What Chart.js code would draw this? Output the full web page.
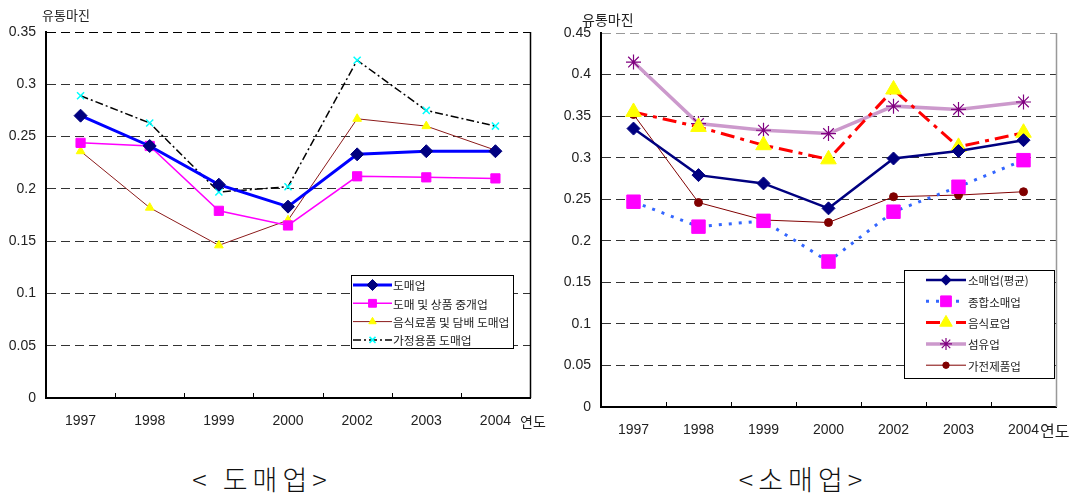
<!DOCTYPE html>
<html>
<head>
<meta charset="utf-8">
<script src="https://cdn.jsdelivr.net/npm/chart.js@4.4.1/dist/chart.umd.min.js"></script>
<style>
  body { margin: 0; background: #fff; width: 1077px; height: 497px; position: relative; overflow: hidden; }
  canvas { position: absolute; top: 0; }
  #leftChart { left: 0; }
  #rightChart { left: 540px; }
  .lbl { position: absolute; color: #222; white-space: nowrap; line-height: 1; font-family: "Noto Sans CJK KR", sans-serif; z-index: 2; }
  .ttl { position: absolute; top: 464px; width: 220px; text-align: center; font-size: 27px; line-height: 30px;
         font-family: "Noto Sans CJK KR", sans-serif; font-weight: 300; letter-spacing: 5px; color: #111; }
</style>
</head>
<body>
<canvas id="leftChart" width="540" height="450"></canvas>
<canvas id="rightChart" width="537" height="450"></canvas>

<div class="lbl" style="left:42px;top:8px;font-size:13px;">유통마진</div>
<div class="lbl" style="left:582px;top:12px;font-size:14px;">유통마진</div>
<div class="lbl" style="left:520px;top:414px;font-size:14px;">연도</div>
<div class="lbl" style="left:1040px;top:422px;font-size:16px;">연도</div>
<div class="ttl" style="left:152px;">&lt; 도매업&gt;</div>
<div class="ttl" style="left:693px;">&lt;소매업&gt;</div>

<script>
// categories (same for both panels)
const years = ['1997', '1998', '1999', '2000', '2002', '2003', '2004'];

// left panel: wholesale
const wholesaleNames = ['도매업', '도매 및 상품 중개업', '음식료품 및 담배 도매업', '가정용품 도매업'];
const wholesaleAll    = [0.270, 0.241, 0.204, 0.183, 0.233, 0.236, 0.236];
const wholesaleBroker = [0.244, 0.241, 0.179, 0.165, 0.212, 0.211, 0.210];
const wholesaleFood   = [0.236, 0.182, 0.146, 0.170, 0.267, 0.260, 0.237];
const wholesaleHome   = [0.289, 0.263, 0.197, 0.202, 0.323, 0.275, 0.260];
const leftYLabels = ['0', '0.05', '0.1', '0.15', '0.2', '0.25', '0.3', '0.35'];

// right panel: retail
const retailNames = ['소매업(평균)', '종합소매업', '음식료업', '섬유업', '가전제품업'];
const retailAll     = [0.335, 0.279, 0.269, 0.239, 0.299, 0.308, 0.321];
const retailGeneral = [0.247, 0.217, 0.224, 0.175, 0.235, 0.265, 0.297];
const retailFood    = [0.355, 0.337, 0.315, 0.298, 0.382, 0.313, 0.330];
const retailTextile = [0.415, 0.341, 0.333, 0.329, 0.362, 0.358, 0.367];
const retailElec    = [0.352, 0.246, 0.225, 0.222, 0.253, 0.255, 0.259];
const rightYLabels = ['0', '0.05', '0.1', '0.15', '0.2', '0.25', '0.3', '0.35', '0.4', '0.45'];

const tickFont = { family: 'Liberation Sans', size: 14 };

// right border + small inside ticks on the category axis
const frame = {
    id: 'frame',
    afterDraw(chart, args, opts) {
        const { ctx, chartArea: { right, top, bottom }, scales: { x } } = chart;
        ctx.save();
        ctx.strokeStyle = opts.rightColor;
        ctx.lineWidth = opts.rightWidth;
        ctx.beginPath();
        ctx.moveTo(right + 0.5, top);
        ctx.lineTo(right + 0.5, bottom);
        ctx.stroke();
        //ticks between the years
        const half = (x.getPixelForValue(1) - x.getPixelForValue(0)) / 2;
        ctx.strokeStyle = opts.tickColor;
        ctx.lineWidth = 1;
        ctx.beginPath();
        for (let i = 0; i < x.ticks.length - 1; i++) {
            const px = Math.round(x.getPixelForValue(i) + half) + 0.5;
            ctx.moveTo(px, bottom);
            ctx.lineTo(px, bottom - 5);
        }
        ctx.stroke();
        ctx.restore();
    }
};

// boxed legend inside the plot
const boxLegend = {
    id: 'boxLegend',
    afterDraw(chart, args, o) {
        const ctx = chart.ctx;
        ctx.save();
        ctx.fillStyle = '#fff';
        ctx.fillRect(o.x, o.y, o.w, o.h);
        ctx.strokeStyle = '#000';
        ctx.lineWidth = 1;
        ctx.strokeRect(o.x + 0.5, o.y + 0.5, o.w, o.h);
        chart.data.datasets.forEach((ds, i) => {
            const y = o.y + o.first + i * o.gap;
            ctx.save();
            ctx.strokeStyle = ds.borderColor;
            ctx.lineWidth = ds.borderWidth;
            ctx.setLineDash(ds.borderDash || []);
            ctx.beginPath();
            ctx.moveTo(o.x + o.line0, y);
            ctx.lineTo(o.x + o.line1, y);
            ctx.stroke();
            ctx.restore();

            ctx.save();
            ctx.fillStyle = ds.pointBackgroundColor;
            ctx.strokeStyle = ds.pointBorderColor;
            ctx.lineWidth = ds.pointBorderWidth;
            Chart.helpers.drawPoint(ctx, {
                pointStyle: ds.pointStyle, radius: ds.pointRadius * o.pointScale,
                rotation: 0, borderWidth: ds.pointBorderWidth
            }, o.x + (o.line0 + o.line1) / 2, y);
            ctx.restore();

            ctx.fillStyle = '#222';
            ctx.font = o.font;
            ctx.textBaseline = 'middle';
            ctx.fillText(ds.label, o.x + o.textX, y + 1);
        });
        ctx.restore();
    }
};

function yScale(labels, max, yWidth, topColor) {
    return {
        min: 0, max: max,
        ticks: { stepSize: 0.05, padding: 10, color: '#222', font: tickFont,
                 callback: (v, i) => labels[i] },
        grid: {
            drawTicks: false, lineWidth: 1,
            color: c => c.tick.value === 0 ? 'rgba(0,0,0,0)' : (c.index === labels.length - 1 ? topColor : '#333')
        },
        border: { display: true, color: '#000', width: 2, dash: [9, 5] },
        afterFit(scale) { scale.width = yWidth; }
    };
}

function xScale(xHeight, pad) {
    return {
        offset: true,
        grid: { display: false, drawTicks: false },
        border: { display: true, color: '#000', width: 2 },
        ticks: { padding: pad, color: '#222', font: tickFont, maxRotation: 0 },
        afterFit(scale) { scale.height = xHeight; }
    };
}

function series(label, data, o) {
    return Object.assign({ label: label, data: data, fill: false, tension: 0, pointHoverRadius: o.pointRadius }, o);
}

new Chart(document.getElementById('leftChart'), {
    type: 'line',
    data: {
        labels: years,
        datasets: [
            series(wholesaleNames[0], wholesaleAll, {
                borderColor: '#0000FF', borderWidth: 3,
                pointStyle: 'rectRot', pointRadius: 6.5, pointBackgroundColor: '#000080',
                pointBorderColor: '#000080', pointBorderWidth: 1 }),
            series(wholesaleNames[1], wholesaleBroker, {
                borderColor: '#FF00FF', borderWidth: 1.5,
                pointStyle: 'rect', pointRadius: 6.5, pointBackgroundColor: '#FF00FF',
                pointBorderColor: '#FF00FF', pointBorderWidth: 1 }),
            series(wholesaleNames[2], wholesaleFood, {
                borderColor: '#8B1A1A', borderWidth: 1,
                pointStyle: 'triangle', pointRadius: 5, pointBackgroundColor: '#FFFF00',
                pointBorderColor: '#FFFF00', pointBorderWidth: 1 }),
            series(wholesaleNames[3], wholesaleHome, {
                borderColor: '#000000', borderWidth: 1.5, borderDash: [8, 3, 2, 3],
                pointStyle: 'crossRot', pointRadius: 5, pointBackgroundColor: '#00FFFF',
                pointBorderColor: '#00FFFF', pointBorderWidth: 1.5 })
        ]
    },
    options: {
        responsive: false, animation: false,
        layout: { padding: { left: 0, right: 10, top: 32, bottom: 0 } },
        scales: { x: xScale(52, 15), y: yScale(leftYLabels, 0.35, 46, '#000') },
        plugins: {
            legend: { display: false }, tooltip: { enabled: false },
            frame: { rightColor: '#000', rightWidth: 1.5, tickColor: '#000' },
            boxLegend: { x: 351, y: 275, w: 162, h: 73, first: 10, gap: 18.3,
                         line0: 2, line1: 41, textX: 42, pointScale: 0.85,
                         font: '11.8px "Noto Sans CJK KR"' }
        }
    },
    plugins: [frame, boxLegend]
});

new Chart(document.getElementById('rightChart'), {
    type: 'line',
    data: {
        labels: years,
        datasets: [
            series(retailNames[0], retailAll, {
                borderColor: '#000080', borderWidth: 2.5,
                pointStyle: 'rectRot', pointRadius: 6.5, pointBackgroundColor: '#000080',
                pointBorderColor: '#000080', pointBorderWidth: 1 }),
            series(retailNames[1], retailGeneral, {
                borderColor: '#3366FF', borderWidth: 3, borderDash: [3, 7],
                pointStyle: 'rect', pointRadius: 9.5, pointBackgroundColor: '#FF00FF',
                pointBorderColor: '#FF00FF', pointBorderWidth: 1 }),
            series(retailNames[2], retailFood, {
                borderColor: '#FF0000', borderWidth: 3, borderDash: [14, 6, 4, 6],
                pointStyle: 'triangle', pointRadius: 9, pointBackgroundColor: '#FFFF00',
                pointBorderColor: '#FFFF00', pointBorderWidth: 1 }),
            series(retailNames[3], retailTextile, {
                borderColor: '#CC99CC', borderWidth: 3.5,
                pointStyle: 'star', pointRadius: 7.5, pointBackgroundColor: '#800080',
                pointBorderColor: '#800080', pointBorderWidth: 1.2 }),
            series(retailNames[4], retailElec, {
                borderColor: '#800000', borderWidth: 1,
                pointStyle: 'circle', pointRadius: 4, pointBackgroundColor: '#800000',
                pointBorderColor: '#800000', pointBorderWidth: 1 })
        ]
    },
    options: {
        responsive: false, animation: false,
        layout: { padding: { left: 0, right: 21, top: 33, bottom: 0 } },
        scales: { x: xScale(43, 15), y: yScale(rightYLabels, 0.45, 61, '#999') },
        plugins: {
            legend: { display: false }, tooltip: { enabled: false },
            frame: { rightColor: '#999', rightWidth: 1.5, tickColor: '#000' },
            boxLegend: { x: 364, y: 270, w: 150, h: 108, first: 10, gap: 21.3,
                         line0: 22, line1: 62, textX: 64, pointScale: 0.8,
                         font: '11.5px "Noto Sans CJK KR"' }
        }
    },
    plugins: [frame, boxLegend]
});
</script>
</body>
</html>
